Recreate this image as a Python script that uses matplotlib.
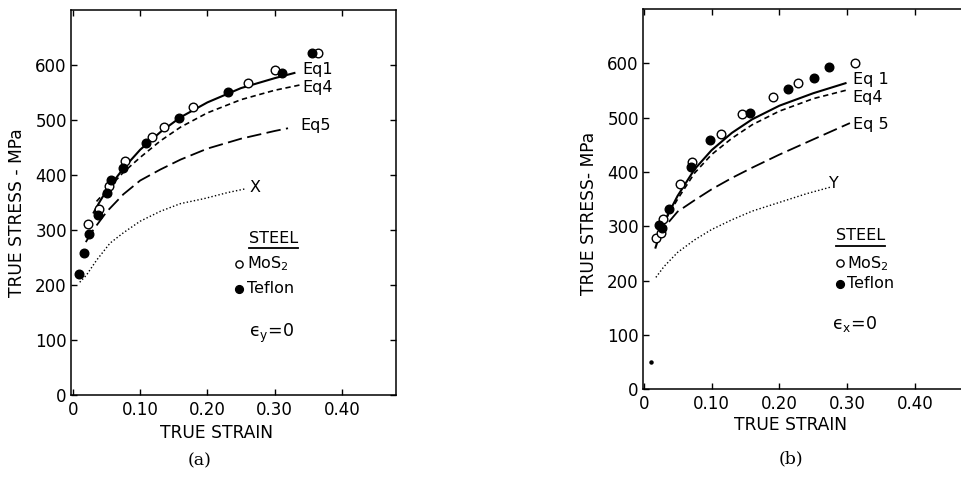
import matplotlib
matplotlib.use("Agg")
import matplotlib.pyplot as plt
from matplotlib.lines import Line2D

plt.rcParams["font.family"] = ["DejaVu Sans"]

# ---------------- panel (a): plane strain, eps_y = 0 ----------------
a_mos2_x = [0.023, 0.038, 0.054, 0.077, 0.117, 0.135, 0.179, 0.260, 0.300, 0.365]
a_mos2_y = [311, 339, 380, 426, 470, 488, 524, 567, 591, 621]
a_teflon_x = [0.0085, 0.017, 0.024, 0.037, 0.051, 0.056, 0.074, 0.108, 0.158, 0.230, 0.311, 0.355]
a_teflon_y = [220, 258, 293, 327, 368, 391, 412, 459, 503, 551, 586, 621]

a_eq1_x = [0.030, 0.040, 0.050, 0.075, 0.100, 0.130, 0.160, 0.200, 0.250, 0.300, 0.331]
a_eq1_y = [330, 352, 372, 412, 446, 478, 505, 532, 558, 576, 586]
a_eq4_x = [0.035, 0.050, 0.075, 0.100, 0.130, 0.160, 0.200, 0.250, 0.300, 0.339]
a_eq4_y = [352, 372, 405, 432, 462, 487, 513, 537, 554, 564]
a_eq5_x = [0.019, 0.030, 0.050, 0.075, 0.100, 0.130, 0.160, 0.200, 0.250, 0.300, 0.320]
a_eq5_y = [278, 300, 333, 365, 390, 410, 428, 448, 466, 480, 485]
a_x_x = [0.010, 0.020, 0.035, 0.055, 0.075, 0.100, 0.130, 0.160, 0.195, 0.230, 0.257]
a_x_y = [205, 218, 245, 276, 295, 316, 334, 348, 357, 368, 375]

# ---------------- panel (b): plane strain, eps_x = 0 ----------------
b_mos2_x = [0.018, 0.026, 0.029, 0.053, 0.071, 0.114, 0.145, 0.190, 0.228, 0.312]
b_mos2_y = [279, 287, 314, 378, 418, 470, 507, 538, 563, 600]
b_teflon_x = [0.022, 0.027, 0.037, 0.070, 0.098, 0.157, 0.213, 0.251, 0.273]
b_teflon_y = [302, 296, 331, 409, 458, 509, 553, 573, 594]
b_low_x = [0.011]
b_low_y = [50]

b_eq1_x = [0.017, 0.025, 0.035, 0.050, 0.075, 0.100, 0.130, 0.160, 0.200, 0.250, 0.299]
b_eq1_y = [259, 290, 320, 356, 405, 440, 472, 497, 522, 545, 564]
b_eq4_x = [0.022, 0.035, 0.050, 0.075, 0.100, 0.130, 0.160, 0.200, 0.250, 0.300]
b_eq4_y = [282, 318, 350, 398, 432, 462, 487, 512, 535, 551]
b_eq5_x = [0.022, 0.035, 0.050, 0.075, 0.100, 0.130, 0.160, 0.200, 0.250, 0.304]
b_eq5_y = [277, 305, 327, 348, 368, 389, 408, 432, 460, 490]
b_y_x = [0.018, 0.030, 0.050, 0.075, 0.100, 0.130, 0.160, 0.200, 0.240, 0.275]
b_y_y = [206, 226, 252, 275, 294, 312, 328, 344, 360, 372]

x_ticks = [0, 0.10, 0.20, 0.30, 0.40]
x_tick_labels = ["0", "0.10", "0.20", "0.30", "0.40"]
y_ticks = [0, 100, 200, 300, 400, 500, 600]
y_tick_labels = ["0", "100", "200", "300", "400", "500", "600"]

W, H = 961, 479
fig = plt.figure(figsize=(W / 100, H / 100), dpi=100)


def rect(left, top, right, bottom):
    return [left / W, 1 - bottom / H, (right - left) / W, (bottom - top) / H]


ax_a = fig.add_axes(rect(71, 10, 396, 395))
ax_b = fig.add_axes(rect(643, 9, 970, 389.3))

TICK_FS = 12
LBL_FS = 11.5


def style_axes(ax, xlim):
    ax.set_xlim(*xlim)
    ax.set_ylim(0, 700)
    ax.set_xticks(x_ticks)
    ax.set_xticklabels(x_tick_labels)
    ax.set_yticks(y_ticks)
    ax.set_yticklabels(y_tick_labels)
    ax.tick_params(direction="in", length=4.5, width=1.0, top=True, right=True,
                   labelsize=TICK_FS, pad=4, color="black")
    ax.tick_params(axis="y", pad=3)
    for s in ax.spines.values():
        s.set_linewidth(1.1)


def draw_curves(ax, eq1, eq4, eq5, low):
    ax.plot(*eq1, color="black", lw=1.5, solid_capstyle="butt")
    ax.plot(*eq4, color="black", lw=1.2, linestyle=(0, (3.2, 2.2)))
    ax.plot(*eq5, color="black", lw=1.3, linestyle=(0, (8, 3)))
    ax.plot(*low, color="black", lw=1.0, linestyle=(0, (1, 1.6)))


def draw_points(ax, mos2, teflon):
    ax.plot(*mos2, linestyle="none", marker="o", markersize=6.2,
            markerfacecolor="white", markeredgecolor="black", markeredgewidth=1.0)
    ax.plot(*teflon, linestyle="none", marker="o", markersize=6.2,
            markerfacecolor="black", markeredgecolor="black")


def key(ax, x_title, y_title, x_mark, x_txt, y_mos, y_tef, eps_x, eps_y, eps_txt):
    t = ax.text(x_title, y_title, "STEEL", fontsize=LBL_FS, ha="left", va="center")
    ax.plot([x_mark], [y_mos], linestyle="none", marker="o", markersize=5.2,
            markerfacecolor="white", markeredgecolor="black", markeredgewidth=1.0)
    ax.plot([x_mark], [y_tef], linestyle="none", marker="o", markersize=5.6,
            markerfacecolor="black", markeredgecolor="black")
    ax.text(x_txt, y_mos, "MoS$_2$", fontsize=LBL_FS, ha="left", va="center")
    ax.text(x_txt, y_tef, "Teflon", fontsize=LBL_FS, ha="left", va="center")
    ax.text(eps_x, eps_y, eps_txt, fontsize=LBL_FS + 1, ha="left", va="center")
    return t


style_axes(ax_a, (-0.003, 0.4807))
style_axes(ax_b, (-0.001, 0.481))

draw_curves(ax_a, (a_eq1_x, a_eq1_y), (a_eq4_x, a_eq4_y), (a_eq5_x, a_eq5_y), (a_x_x, a_x_y))
draw_points(ax_a, (a_mos2_x, a_mos2_y), (a_teflon_x, a_teflon_y))

draw_curves(ax_b, (b_eq1_x, b_eq1_y), (b_eq4_x, b_eq4_y), (b_eq5_x, b_eq5_y), (b_y_x, b_y_y))
draw_points(ax_b, (b_mos2_x, b_mos2_y), (b_teflon_x, b_teflon_y))
ax_b.plot(b_low_x, b_low_y, linestyle="none", marker="o", markersize=2.2, color="black")

# curve labels
for ax, xs, ys, txts in [
    (ax_a, [0.341, 0.341, 0.339], [591, 559, 490], ["Eq1", "Eq4", "Eq5"]),
    (ax_b, [0.308, 0.308, 0.308], [570, 538, 487], ["Eq 1", "Eq4", "Eq 5"]),
]:
    for x, y, s in zip(xs, ys, txts):
        ax.text(x, y, s, fontsize=LBL_FS, ha="left", va="center")

ax_a.text(0.271, 378, "X", fontsize=LBL_FS, ha="center", va="center")
ax_b.text(0.281, 378, "Y", fontsize=LBL_FS, ha="center", va="center")

t_a = key(ax_a, 0.262, 285, 0.247, 0.259, 238, 193, 0.262, 112, "\u03f5$_\\mathregular{y}$=0")
t_b = key(ax_b, 0.283, 283, 0.289, 0.300, 232, 194, 0.278, 121, "\u03f5$_\\mathregular{x}$=0")

# axis titles and panel tags
fig.text(17 / W, 1 - 213 / H, "TRUE STRESS - MPa", rotation=90, fontsize=12.3,
         ha="center", va="center")
fig.text(216 / W, 1 - 433 / H, "TRUE STRAIN", fontsize=12.3, ha="center", va="center")
fig.text(200 / W, 1 - 461 / H, "(a)", fontsize=12.5, family="DejaVu Serif",
         ha="center", va="center")
fig.text(589 / W, 1 - 213 / H, "TRUE STRESS- MPa", rotation=90, fontsize=12.3,
         ha="center", va="center")
fig.text(790 / W, 1 - 425 / H, "TRUE STRAIN", fontsize=12.3, ha="center", va="center")
fig.text(791 / W, 1 - 459 / H, "(b)", fontsize=12.5, family="DejaVu Serif",
         ha="center", va="center")

# underline the "STEEL" key titles
fig.canvas.draw()
renderer = fig.canvas.get_renderer()
for ax, t in [(ax_a, t_a), (ax_b, t_b)]:
    bb = t.get_window_extent(renderer)
    inv = fig.transFigure.inverted()
    (x0, y0), (x1, _) = inv.transform([(bb.x0, bb.y0 - 2.5), (bb.x1, bb.y0 - 2.5)])
    fig.add_artist(Line2D([x0, x1], [y0, y0], color="black", lw=1.3,
                          transform=fig.transFigure))

fig.savefig("out.png", dpi=100)
